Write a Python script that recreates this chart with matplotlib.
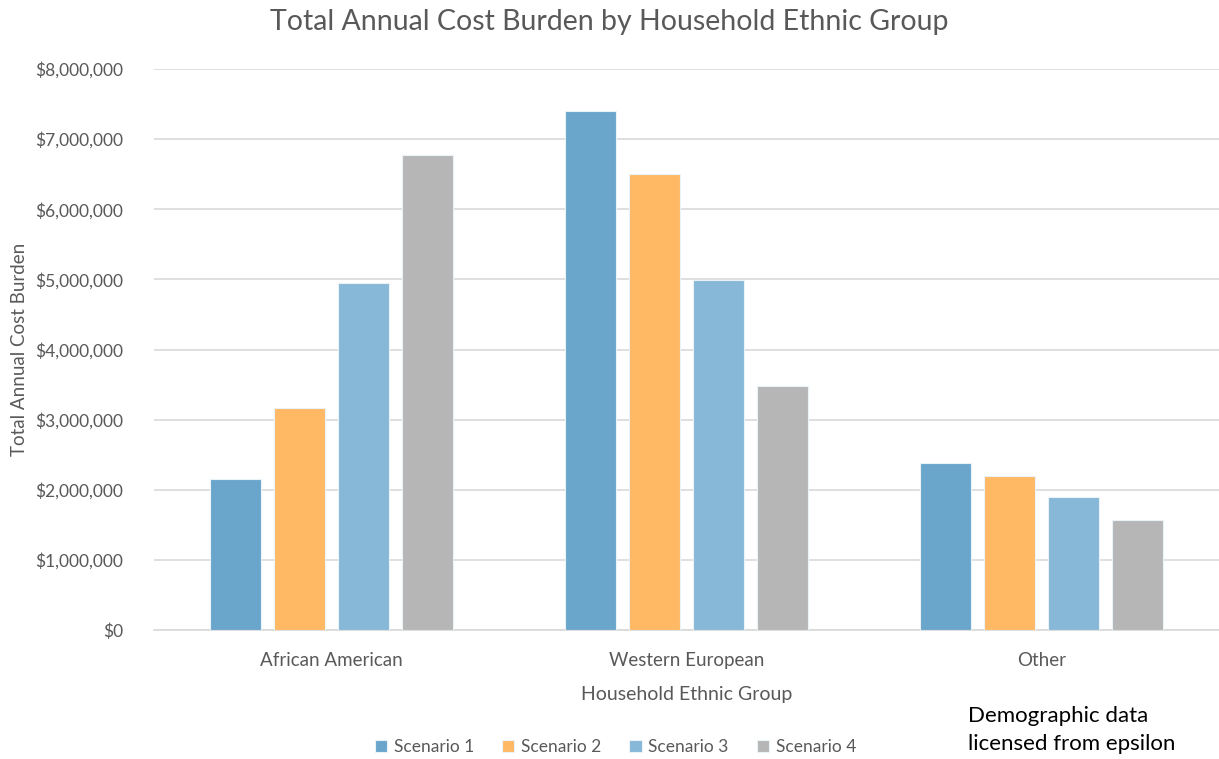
import numpy as np
import matplotlib.pyplot as plt
from matplotlib.ticker import FuncFormatter, MultipleLocator

# Custo anual total por grupo étnico e cenário
grupos = ['African American', 'Western European', 'Other']
cenarios = ['Scenario 1', 'Scenario 2', 'Scenario 3', 'Scenario 4']
cenario1 = [2150000, 7400000, 2380000]
cenario2 = [3170000, 6510000, 2200000]
cenario3 = [4950000, 4990000, 1890000]
cenario4 = [6780000, 3480000, 1570000]
cores = ['#6AA6CB', '#FFB964', '#87B8D7', '#B6B6B6']

plt.rcParams['font.family'] = ['Lato', 'DejaVu Sans']
cinza = '#595959'

fig = plt.figure(figsize=(12.19, 7.59), dpi=100)
ax = fig.add_axes([0.1263, 0.170, 0.8737, 0.739])

x = np.arange(len(grupos))
passo = 0.18
largura = 0.144
series = [cenario1, cenario2, cenario3, cenario4]

for i, valores in enumerate(series):
    pos = x + (i - 1.5) * passo
    ax.bar(pos, valores, width=largura, color=cores[i], edgecolor='#EAF2F8',
           linewidth=0.8, label=cenarios[i], zorder=3)

ax.set_xlim(-0.5, 2.5)
ax.set_ylim(0, 8000000)
ax.yaxis.set_major_locator(MultipleLocator(1000000))
ax.yaxis.set_major_formatter(FuncFormatter(lambda v, p: f'${v:,.0f}'))
ax.grid(axis='y', color='#D9D9D9', linewidth=1.2, zorder=0)

for lado in ['top', 'right', 'left']:
    ax.spines[lado].set_visible(False)
ax.spines['bottom'].set_color('#D9D9D9')
ax.spines['bottom'].set_linewidth(1.2)

ax.set_xticks(x)
ax.set_xticklabels(grupos)
ax.tick_params(axis='both', length=0, colors=cinza)
ax.tick_params(axis='y', labelsize=12.5, pad=22)
ax.tick_params(axis='x', labelsize=13.5, pad=16)

fig.text(0.5, 0.971, 'Total Annual Cost Burden by Household Ethnic Group', fontsize=20.5,
         color=cinza, ha='center', va='center')
ax.set_xlabel('Household Ethnic Group', fontsize=14, color=cinza, labelpad=12)
ax.set_ylabel('Total Annual Cost Burden', fontsize=13.5, color=cinza)
ax.yaxis.set_label_coords(-0.118, 0.5)

fig.legend(loc='center', bbox_to_anchor=(0.505, 0.016), ncol=4, frameon=False,
           fontsize=12.5, labelcolor=cinza, handlelength=0.7, handleheight=0.7,
           handletextpad=0.4, columnspacing=1.6)

fig.text(0.794, 0.006, 'Demographic data\nlicensed from epsilon', fontsize=16,
         color='black', ha='left', va='bottom', linespacing=1.5)

fig.savefig('out.png', dpi=100)
